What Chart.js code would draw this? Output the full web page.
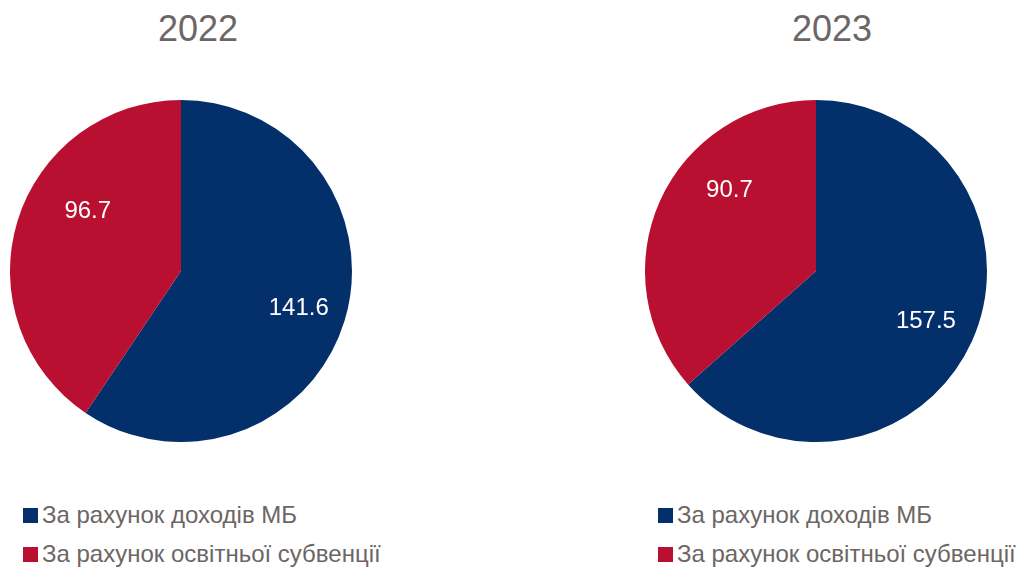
<!DOCTYPE html>
<html>
<head>
<meta charset="utf-8">
<script src="https://cdn.jsdelivr.net/npm/chart.js@4"></script>
<style>
  html, body { margin: 0; padding: 0; background: #fff; width: 1019px; height: 568px; overflow: hidden; }
  body { position: relative; font-family: "Liberation Sans", Arial, sans-serif; color: #6c6665; }
  .title { position: absolute; top: 11px; width: 200px; margin-left: -100px; text-align: center;
           font-size: 36px; line-height: 36px; }
  .pie { position: absolute; top: 100px; width: 342px; height: 342px; }
  .legend { position: absolute; top: 503px; }
  .legend .row { display: flex; align-items: center; height: 24px; margin-bottom: 15px;
                 font-size: 24px; line-height: 24px; white-space: nowrap; }
  .legend .sw { width: 15px; height: 15px; margin-right: 4px; flex: none; }
</style>
</head>
<body>
<div class="title" style="left:198px" id="t0"></div>
<div class="title" style="left:832px" id="t1"></div>
<div class="pie" style="left:10px"><canvas id="chart2022"></canvas></div>
<div class="pie" style="left:645px"><canvas id="chart2023"></canvas></div>
<div class="legend" style="left:23px" id="lg0"></div>
<div class="legend" style="left:658px" id="lg1"></div>
<script>
const categories = ['За рахунок доходів МБ', 'За рахунок освітньої субвенції'];
const years = ['2022', '2023'];
const values2022 = [141.6, 96.7];
const values2023 = [157.5, 90.7];
const sliceColors = ['#03306b', '#b90f31'];

// where each number sits: fraction of radius, angle shift (deg) from slice middle
const labelPlace2022 = [[0.72, 0], [0.65, 16]];
const labelPlace2023 = [[0.705, 0], [0.695, 19]];

const sliceLabels = {
  id: 'sliceLabels',
  afterDatasetsDraw(chart, args, opts) {
    const ctx = chart.ctx;
    const meta = chart.getDatasetMeta(0);
    const data = chart.data.datasets[0].data;
    ctx.save();
    ctx.fillStyle = '#ffffff';
    ctx.font = '24px "Liberation Sans", Arial, sans-serif';
    ctx.textAlign = 'center';
    ctx.textBaseline = 'middle';
    meta.data.forEach((arc, i) => {
      const p = arc.getProps(['x', 'y', 'startAngle', 'endAngle', 'outerRadius'], true);
      const place = opts.place[i];
      const a = (p.startAngle + p.endAngle) / 2 + place[1] * Math.PI / 180;
      const r = p.outerRadius * place[0];
      ctx.fillText(data[i].toFixed(1), p.x + Math.cos(a) * r, p.y + Math.sin(a) * r + 1);
    });
    ctx.restore();
  }
};

function makePie(canvasId, values, place) {
  const el = document.getElementById(canvasId);
  return new Chart(el.getContext('2d'), {
    type: 'pie',
    data: {
      labels: categories,
      datasets: [{
        data: values,
        backgroundColor: sliceColors,
        borderWidth: 0,
        hoverOffset: 0
      }]
    },
    options: {
      responsive: true,
      maintainAspectRatio: false,
      animation: false,
      layout: { padding: 0 },
      plugins: {
        legend: { display: false },
        tooltip: { enabled: false },
        sliceLabels: { place: place }
      }
    },
    plugins: [sliceLabels]
  });
}

function buildLegend(id) {
  const box = document.getElementById(id);
  categories.forEach((c, i) => {
    const row = document.createElement('div');
    row.className = 'row';
    const sw = document.createElement('span');
    sw.className = 'sw';
    sw.style.background = sliceColors[i];
    const tx = document.createElement('span');
    tx.textContent = c;
    row.appendChild(sw);
    row.appendChild(tx);
    box.appendChild(row);
  });
}

document.getElementById('t0').textContent = years[0];
document.getElementById('t1').textContent = years[1];
makePie('chart2022', values2022, labelPlace2022);
makePie('chart2023', values2023, labelPlace2023);
buildLegend('lg0');
buildLegend('lg1');
</script>
</body>
</html>
